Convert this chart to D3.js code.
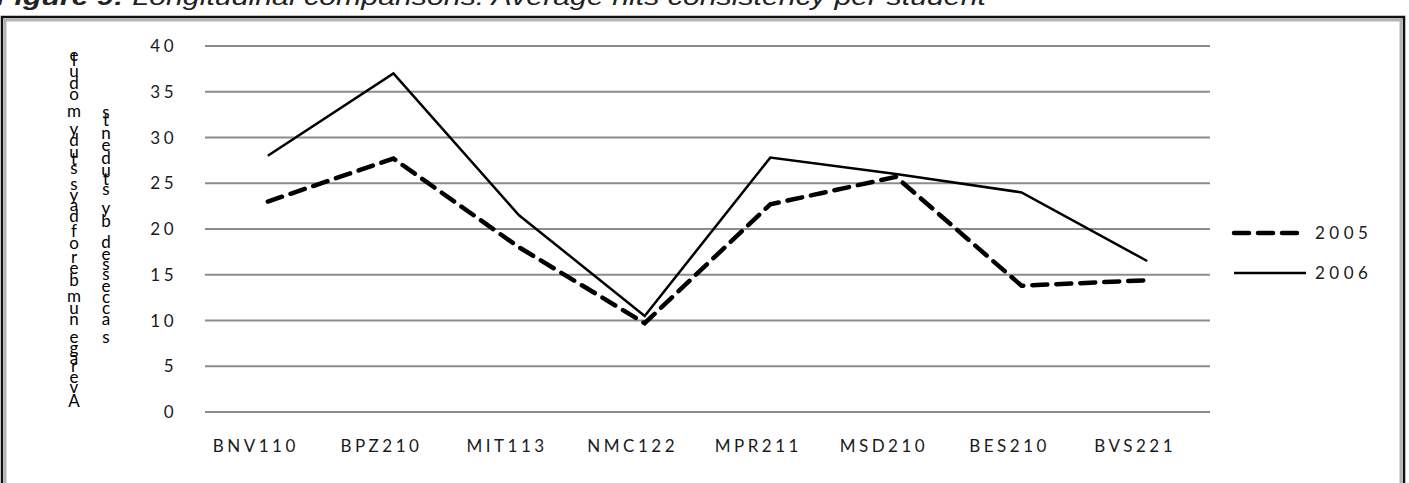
<!DOCTYPE html>
<html>
<head>
<meta charset="utf-8">
<script src="https://cdn.jsdelivr.net/npm/d3@7"></script>
<style>
    body { margin: 0; background: #fff; }
    svg { display: block; }
    .gridLines { stroke: #8c8c8c; stroke-width: 2; }
    .tickLabel { font-family: Lato, sans-serif; font-size: 17px; fill: #1a1a1a; letter-spacing: 3.5px; }
    .legendLabel { font-family: Lato, sans-serif; font-size: 17px; fill: #1a1a1a; letter-spacing: 4.5px; }
    .yLabel { font-family: Lato, sans-serif; font-size: 17px; fill: #000; }
    .figTitle { font-family: "Liberation Sans", Arial, sans-serif; font-size: 24px; font-style: italic; fill: #222; }
</style>
</head>
<body>
<script>
(function () {

    //chart data
    var modules = ["BNV110", "BPZ210", "MIT113", "NMC122", "MPR211", "MSD210", "BES210", "BVS221"];
    var values2005 = [23, 27.7, 18, 9.7, 22.7, 25.7, 13.8, 14.4];
    var values2006 = [28, 37, 21.5, 10.5, 27.8, 26, 24, 16.5];
    var yTicks = [0, 5, 10, 15, 20, 25, 30, 35, 40];
    var seriesNames = ["2005", "2006"];
    var yLabelLines = ["Average number of days study module", "s accessed by students"];

    window.onload = setChart();

    function setChart() {
        var width = 1409,
            height = 483;

        var svg = d3.select("body")
            .append("svg")
            .attr("width", width)
            .attr("height", height);

        //figure caption, mostly cut off by the top edge
        svg.append("text")
            .attr("class", "figTitle")
            .attr("x", -4)
            .attr("y", 5)
            .attr("textLength", 990)
            .attr("lengthAdjust", "spacingAndGlyphs")
            .html("<tspan font-weight='bold'>Figure 9:</tspan> Longitudinal comparisons: Average hits consistency per student");

        //chart frame, black outside and grey inside
        svg.append("rect")
            .attr("x", 2)
            .attr("y", 17)
            .attr("width", 1402)
            .attr("height", 490)
            .style("fill", "none")
            .style("stroke", "#111")
            .style("stroke-width", 2.5);
        svg.append("rect")
            .attr("x", 5)
            .attr("y", 20)
            .attr("width", 1396)
            .attr("height", 490)
            .style("fill", "none")
            .style("stroke", "#b4b4b4")
            .style("stroke-width", 3);

        var xScale = d3.scaleBand()
            .domain(modules)
            .range([205, 1210]);

        var yScale = d3.scaleLinear()
            .domain([0, 40])
            .range([412, 46]);

        //horizontal grid lines
        svg.selectAll(".gridLines")
            .data(yTicks)
            .enter()
            .append("line")
            .attr("class", "gridLines")
            .attr("x1", 205)
            .attr("x2", 1210)
            .attr("y1", function (d) { return yScale(d); })
            .attr("y2", function (d) { return yScale(d); });

        //y tick labels
        svg.selectAll(".yTick")
            .data(yTicks)
            .enter()
            .append("text")
            .attr("class", "tickLabel yTick")
            .attr("text-anchor", "end")
            .attr("x", 177)
            .attr("y", function (d) { return yScale(d) + 6; })
            .text(function (d) { return d; });

        //x category labels
        svg.selectAll(".xTick")
            .data(modules)
            .enter()
            .append("text")
            .attr("class", "tickLabel xTick")
            .attr("text-anchor", "middle")
            .attr("x", function (d) { return xScale(d) + xScale.bandwidth() / 2 - 12; })
            .attr("y", 452)
            .text(function (d) { return d; });

        setYLabel(svg);

        var line = d3.line()
            .x(function (d, i) { return xScale(modules[i]) + xScale.bandwidth() / 2; })
            .y(function (d) { return yScale(d); });

        //2005 dashed series
        svg.append("path")
            .datum(values2005)
            .attr("d", line)
            .style("fill", "none")
            .style("stroke", "#000")
            .style("stroke-width", 4.5)
            .style("stroke-dasharray", "15,9")
            .style("stroke-linecap", "round");

        //2006 solid series
        svg.append("path")
            .datum(values2006)
            .attr("d", line)
            .style("fill", "none")
            .style("stroke", "#000")
            .style("stroke-width", 2.5);

        setLegend(svg);
    };

    //stacked characters that make up the broken axis title
    function setYLabel(svg) {
        var columns = [
            { x: 74, bottom: 407, top: 50 },
            { x: 106, bottom: 343, top: 108 }
        ];
        yLabelLines.forEach(function (txt, c) {
            var g = svg.append("g");
            var chars = txt.split("");
            var nodes = g.selectAll("text")
                .data(chars)
                .enter()
                .append("text")
                .attr("class", "yLabel")
                .attr("text-anchor", "middle")
                .text(function (d) { return d; });
            //use glyph advance as vertical step, scaled to span the column
            var adv = [];
            nodes.each(function (d) {
                var w = this.getComputedTextLength();
                adv.push(d == " " ? 6 : w);
            });
            var total = d3.sum(adv);
            var col = columns[c];
            var k = (col.bottom - col.top) / total;
            var pos = col.bottom;
            nodes.attr("x", col.x)
                .attr("y", function (d, i) {
                    var yy = pos;
                    pos -= adv[i] * k;
                    return yy;
                });
        });
    };

    function setLegend(svg) {
        var rows = [
            { y: 233, dash: "15,9", w: 4.5 },
            { y: 273, dash: null, w: 2.5 }
        ];
        seriesNames.forEach(function (name, i) {
            svg.append("line")
                .attr("x1", 1234)
                .attr("x2", 1306)
                .attr("y1", rows[i].y)
                .attr("y2", rows[i].y)
                .style("stroke", "#000")
                .style("stroke-width", rows[i].w)
                .style("stroke-dasharray", rows[i].dash)
                .style("stroke-linecap", rows[i].dash ? "round" : "butt");
            svg.append("text")
                .attr("class", "legendLabel")
                .attr("x", 1315)
                .attr("y", rows[i].y + 6)
                .text(name);
        });
    };

})();
</script>
</body>
</html>
